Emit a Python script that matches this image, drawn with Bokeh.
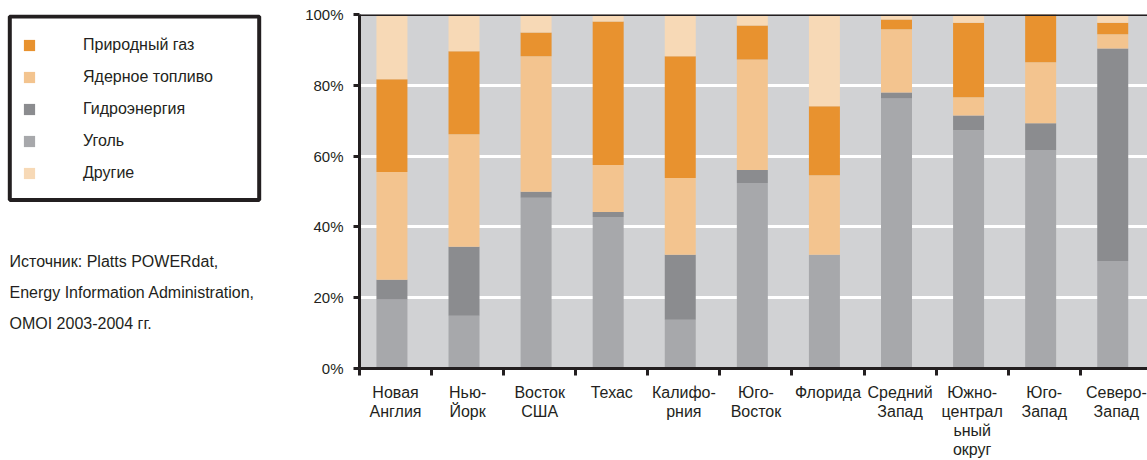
from bokeh.plotting import figure
from bokeh.layouts import row
from bokeh.models import (Range1d, FixedTicker, PrintfTickFormatter, Legend, LegendItem,
                          Span, BoxAnnotation, Label, ColumnDataSource)
from bokeh.embed import file_html
from bokeh.resources import INLINE

# ---- data ----
categories = ["Новая\nАнглия", "Нью-\nЙорк", "Восток\nСША", "Техас", "Калифо-\nрния",
              "Юго-\nВосток", "Флорида", "Средний\nЗапад", "Южно-\nцентрал\nьный\nокруг",
              "Юго-\nЗапад", "Северо-\nЗапад"]
coal    = [19.5, 14.9, 48.2, 42.8, 13.8, 52.4, 32.1, 76.3, 67.3, 61.7, 30.4]
hydro   = [5.6, 19.5, 1.7, 1.4, 18.3, 3.7, 0.0, 1.7, 4.2, 7.6, 60.0]
nuclear = [30.4, 31.8, 38.3, 13.3, 21.7, 31.2, 22.5, 17.8, 5.1, 17.2, 4.0]
gas     = [26.2, 23.4, 6.7, 40.5, 34.4, 9.6, 19.5, 2.8, 21.1, 13.5, 3.3]
other   = [18.3, 10.4, 5.1, 2.0, 11.8, 3.1, 25.9, 1.4, 2.3, 0.0, 2.3]

series_keys = ["coal", "hydro", "nuclear", "gas", "other"]
series_names = {"gas": "Природный газ", "nuclear": "Ядерное топливо", "hydro": "Гидроэнергия",
                "coal": "Уголь", "other": "Другие"}
legend_order = ["gas", "nuclear", "hydro", "coal", "other"]
y_ticks = [0, 20, 40, 60, 80, 100]
source_lines = ["Источник: Platts POWERdat,", "Energy Information Administration,", "OMOI 2003-2004 гг."]

# ---- styles / layout ----
COLORS = {"gas": "#e8922f", "nuclear": "#f3c48f", "hydro": "#8b8c8f", "coal": "#a7a8ab", "other": "#f7d9b6"}
DARK = "#231f20"
BG = "#d1d2d4"
FONT = "Liberation Sans"
H = 460
LEFT_W = 300
MAIN_W = 847
FRAME_TOP, FRAME_BOTTOM = 14, 369
MAIN_BORDER_LEFT = 59
CAT_PX = 72.08

n = len(categories)
src = ColumnDataSource(dict(x=[i + 0.45 for i in range(n)], coal=coal, hydro=hydro,
                            nuclear=nuclear, gas=gas, other=other))
fills = [COLORS[k] for k in series_keys]

# ---- main chart ----
p = figure(width=MAIN_W, height=H,
           x_range=Range1d(0, (MAIN_W - MAIN_BORDER_LEFT) / CAT_PX), y_range=Range1d(0, 100),
           toolbar_location=None, output_backend="svg",
           min_border_left=MAIN_BORDER_LEFT, min_border_right=0, min_border_top=FRAME_TOP,
           min_border_bottom=H - FRAME_BOTTOM,
           background_fill_color=BG, border_fill_color="white", outline_line_color=None)

p.vbar_stack(series_keys, x="x", width=0.43, source=src, fill_color=fills, line_color=None)

p.xgrid.visible = False
p.ygrid.grid_line_color = "white"
p.ygrid.grid_line_width = 3
p.ygrid.ticker = FixedTicker(ticks=y_ticks)

yax = p.yaxis[0]
yax.ticker = FixedTicker(ticks=y_ticks)
yax.formatter = PrintfTickFormatter(format="%d%%")
yax.axis_line_color = DARK
yax.axis_line_width = 3
yax.major_tick_line_color = DARK
yax.major_tick_line_width = 3
yax.major_tick_out = 6
yax.major_tick_in = 0
yax.minor_tick_line_color = None
yax.major_label_text_font = FONT
yax.major_label_text_font_size = "15px"
yax.major_label_text_color = DARK
yax.major_label_standoff = 10

xax = p.xaxis[0]
xax.ticker = FixedTicker(ticks=[i + 0.5 for i in range(n)], minor_ticks=list(range(n + 1)))
xax.major_label_overrides = {i + 0.5: c for i, c in enumerate(categories)}
xax.axis_line_color = DARK
xax.axis_line_width = 3
xax.major_tick_line_color = None
xax.major_tick_out = 0
xax.major_tick_in = 0
xax.minor_tick_line_color = DARK
xax.minor_tick_line_width = 3
xax.minor_tick_out = 7
xax.minor_tick_in = 0
xax.major_label_text_font = FONT
xax.major_label_text_font_size = "16px"
xax.major_label_text_color = DARK
xax.major_label_text_line_height = 1.12
xax.major_label_standoff = 8

p.add_layout(Span(location=100, dimension="width", line_color=DARK, line_width=3))

# ---- left panel: legend box, legend, source note ----
# ranges chosen so that one data unit = one pixel of the page
left = figure(width=LEFT_W, height=H, x_range=Range1d(0, LEFT_W), y_range=Range1d(FRAME_BOTTOM, FRAME_TOP),
              toolbar_location=None, output_backend="svg",
              min_border_left=0, min_border_right=0, min_border_top=FRAME_TOP,
              min_border_bottom=H - FRAME_BOTTOM,
              x_axis_location=None, y_axis_location=None, outline_line_color=None,
              background_fill_color="white", border_fill_color="white")
left.xgrid.visible = False
left.ygrid.visible = False

# same stacked series (hidden here) only to feed the legend swatches
proxies = left.vbar_stack(series_keys, x="x", width=0.43, source=src, fill_color=fills,
                          line_color=None, visible=False)
pmap = dict(zip(series_keys, proxies))

left.add_layout(BoxAnnotation(left=9.3, right=258.7, top=16, bottom=200,
                              fill_alpha=0, line_color=DARK, line_alpha=1, line_width=4))

items = [LegendItem(label=series_names[k], renderers=[pmap[k]]) for k in legend_order]
legend = Legend(items=items, location=(22, 186), orientation="vertical",
                glyph_width=14, glyph_height=14, label_standoff=47, spacing=14,
                padding=0, margin=0, label_height=14, label_width=20,
                border_line_color=None, background_fill_alpha=0,
                inactive_fill_alpha=0,
                label_text_font=FONT, label_text_font_size="16px", label_text_color=DARK)
left.add_layout(legend, "center")

for i, t in enumerate(source_lines):
    left.add_layout(Label(x=9, y=262 + 30.7 * i, text=t, text_font=FONT,
                          text_font_size="16px", text_color=DARK,
                          text_baseline="middle", text_align="left"))

layout = row(left, p, spacing=0)
open("out.html", "w").write(file_html(layout, INLINE))
